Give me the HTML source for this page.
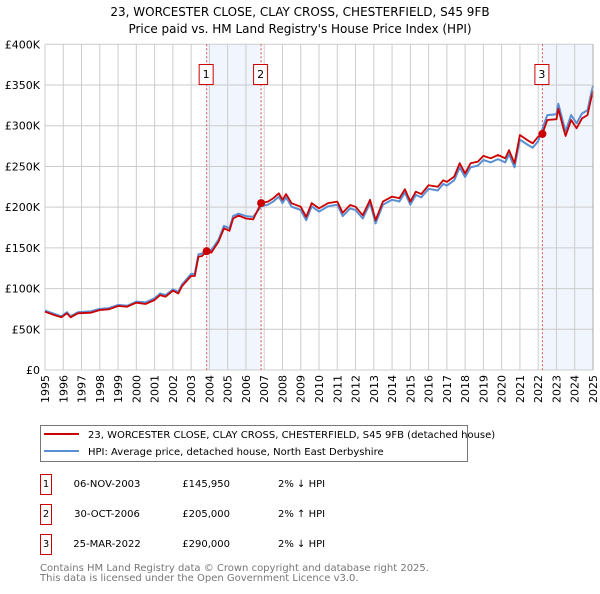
<!DOCTYPE html>
<html><head><meta charset="utf-8">
<style>
body{margin:0;background:#fff;font-family:"DejaVu Sans","Liberation Sans",sans-serif;}
svg text{font-family:"DejaVu Sans","Liberation Sans",sans-serif;}
</style></head>
<body>
<svg id="c" width="600" height="590" xmlns="http://www.w3.org/2000/svg">
<text x="300" y="16" text-anchor="middle" font-size="12" fill="#000">23, WORCESTER CLOSE, CLAY CROSS, CHESTERFIELD, S45 9FB</text>
<text x="300" y="33" text-anchor="middle" font-size="12" fill="#000">Price paid vs. HM Land Registry's House Price Index (HPI)</text>
<g id="plot"></g>
<g>
<rect x="40.5" y="425.5" width="427" height="36" fill="#fff" stroke="#777"/>
<line x1="44" y1="434" x2="79" y2="434" stroke="#cc0000" stroke-width="2"/>
<text x="88" y="438" font-size="10">23, WORCESTER CLOSE, CLAY CROSS, CHESTERFIELD, S45 9FB (detached house)</text>
<line x1="44" y1="451" x2="79" y2="451" stroke="#5b8fd4" stroke-width="2"/>
<text x="88" y="455" font-size="10">HPI: Average price, detached house, North East Derbyshire</text>
</g>
<g id="table" font-size="10"></g>
<text x="40" y="571" font-size="10" fill="#777">Contains HM Land Registry data © Crown copyright and database right 2025.</text>
<text x="40" y="581" font-size="10" fill="#777">This data is licensed under the Open Government Licence v3.0.</text>
</svg>
<script>
const yearTicks=[1995,1996,1997,1998,1999,2000,2001,2002,2003,2004,2005,2006,2007,2008,2009,2010,2011,2012,2013,2014,2015,2016,2017,2018,2019,2020,2021,2022,2023,2024,2025];
const valueTicks=[0,50,100,150,200,250,300,350,400];
const valueLabels=["£0","£50K","£100K","£150K","£200K","£250K","£300K","£350K","£400K"];
const redT=[1995,1995.5,1995.9,1996.2,1996.4,1996.8,1997.5,1998,1998.5,1999,1999.5,2000,2000.5,2001,2001.3,2001.6,2002,2002.3,2002.5,2003,2003.2,2003.4,2003.6,2003.85,2004.1,2004.5,2004.8,2005.1,2005.3,2005.6,2006,2006.4,2006.83,2007.2,2007.5,2007.8,2008,2008.2,2008.5,2009,2009.3,2009.6,2010,2010.5,2011,2011.3,2011.7,2012,2012.4,2012.8,2013.1,2013.5,2014,2014.4,2014.7,2015,2015.3,2015.6,2016,2016.5,2016.8,2017,2017.4,2017.7,2018,2018.3,2018.7,2019,2019.4,2019.8,2020.2,2020.4,2020.7,2021,2021.4,2021.7,2022,2022.23,2022.5,2023,2023.1,2023.4,2023.5,2023.8,2024.1,2024.4,2024.7,2024.9,2025];
const redV=[71.6,67.5,64.7,69.6,64.7,69.6,70.4,73.7,74.5,78.6,77.8,82.7,81.1,86,92,90,97.4,94,103,115.5,115.5,139,140,145.9,144,157.6,174,171,186,189.6,186,185,205,206.8,211,217,209,216,204.7,200.6,188,205,198.5,205,206.8,193,202.6,200.6,190,209,184,206.8,213,211,222,206.8,219,216,227,225,233,231,237.5,254,241.5,254,256,263,260,264,260,270,254,288.6,282.5,278.4,286.6,290,307,308,321,295,287.4,307,297,309,313,333.7,342];
const hpiV=[73,69,66,71,66,71,72,75,76,80,79,84,83,88,94,92,99,96,105,118,118,142,143,149,147,160,177,174,189,192,189,188,201,203,207,213,205,212,200.5,196.5,184,201,194.5,201,203,189,198.5,196.5,186,205,180,203,209,207,218,203,215,212,222.5,220.5,228.5,226.5,233,249,237,249,251,258,255,259,255,265,249,283,277,273,281,296,313,314,327,301,293,313,303,315,319,340,349];
const saleT=[2003.85,2006.83,2022.23];
const saleV=[145.95,205,290];
const saleLabels=["1","2","3"];
const saleDates=["06-NOV-2003","30-OCT-2006","25-MAR-2022"];
const salePrices=["£145,950","£205,000","£290,000"];
const saleRel=["2% ↓ HPI","2% ↑ HPI","2% ↓ HPI"];

const X0=45,X1=593,Y0=370,Y1=44.3;
const xs=t=>X0+(t-1995)/(2025-1995)*(X1-X0);
const ys=v=>Y0-v/400*(Y0-Y1);
const NS="http://www.w3.org/2000/svg";
const plot=document.getElementById('plot');
function mk(tag,attrs,parent){const e=document.createElementNS(NS,tag);for(const k in attrs)e.setAttribute(k,attrs[k]);(parent||plot).appendChild(e);return e;}
[[saleT[0],saleT[1]],[saleT[2],2025]].forEach((r,i)=>{
 const e=mk('rect',{x:xs(r[0]),y:Y1,width:xs(r[1])-xs(r[0]),height:Y0-Y1,fill:'#eef3fc',opacity:0.8});
 
 
});
yearTicks.forEach(y=>{
 const l=mk('line',{x1:xs(y),x2:xs(y),y1:Y1,y2:Y0,stroke:'#cccccc','stroke-width':1});
 
 
 const t=mk('text',{transform:`translate(${xs(y)+4},${Y0+5}) rotate(-90)`,'text-anchor':'end','font-size':11});
 
 
 t.textContent=y;
});
valueTicks.forEach((v,i)=>{
 const l=mk('line',{x1:X0,x2:X1,y1:ys(v),y2:ys(v),stroke:'#cccccc','stroke-width':1});
 
 
 const t=mk('text',{x:X0-5,y:ys(v)+4,'text-anchor':'end','font-size':11});
 
 
 t.textContent=valueLabels[i];
});
saleT.forEach((t,i)=>{
 const l=mk('line',{x1:xs(t),x2:xs(t),y1:Y1,y2:Y0,stroke:'#e05050','stroke-width':1,'stroke-dasharray':'2,2'});
 
 
 const b=mk('rect',{x:xs(t)-7.5,y:64.5,width:14,height:20,fill:'#fff',stroke:'#cc0000'});
 
 
 const tx=mk('text',{x:xs(t)-0.5,y:78,'text-anchor':'middle','font-size':11});
 
 
 tx.textContent=saleLabels[i];
});
function path(vals,color,w,name){
 const d=vals.map((v,i)=>(i?'L':'M')+xs(redT[i]).toFixed(1)+','+ys(v).toFixed(1)).join('');
 const p=mk('path',{d:d,fill:'none',stroke:color,'stroke-width':w,'stroke-linejoin':'round'});
 
 
}
path(hpiV,'#5b8fd4',2,'hpi-line');
path(redV,'#cc0000',1.8,'property-price-line');
saleT.forEach((t,i)=>{
 const c=mk('circle',{cx:xs(t),cy:ys(saleV[i]),r:4,fill:'#cc0000'});
 
 
});
mk('line',{x1:X1,x2:X1,y1:Y1,y2:Y0,stroke:'#aaa','stroke-width':1});
const tbl=document.getElementById('table');
saleLabels.forEach((s,i)=>{
 const y=487+i*30;
 const b=mk('rect',{x:40.5,y:y-12.5,width:11,height:20,fill:'#fff',stroke:'#cc0000'},tbl);
 
 
 const cells=[[46,s,'middle'],[107,saleDates[i],'middle'],[230,salePrices[i],'end'],[278,saleRel[i],'start']];
 cells.forEach((c,j)=>{
  const t=mk('text',{x:c[0],y:y,'text-anchor':c[2],'font-size':10},tbl);
  
  
  t.textContent=c[1];
 });
});
</script>
</body></html>
